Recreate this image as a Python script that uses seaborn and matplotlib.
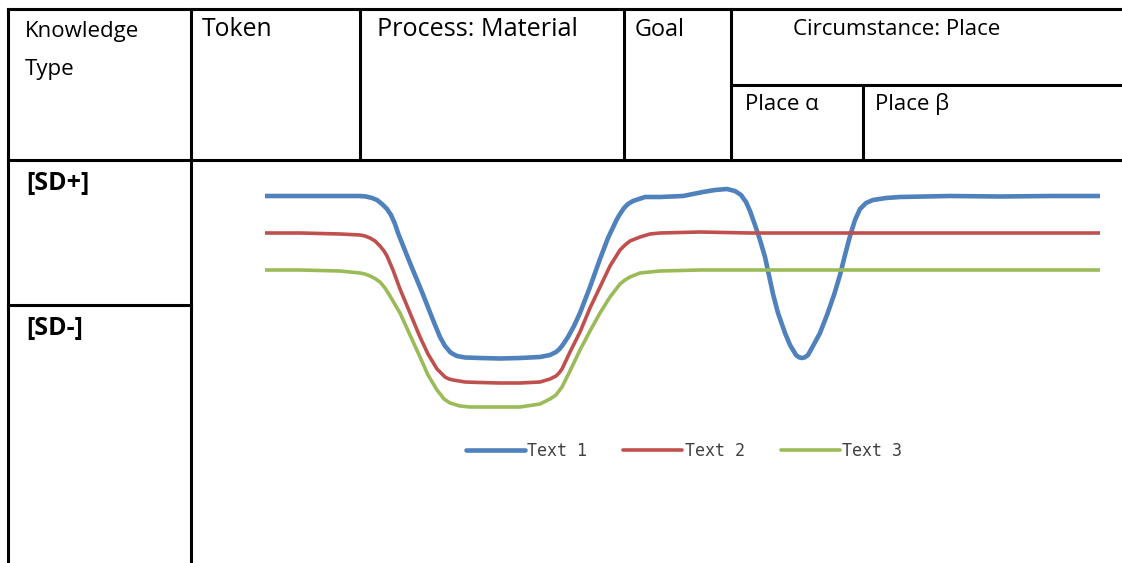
import matplotlib
matplotlib.use("Agg")
import matplotlib.pyplot as plt
import seaborn as sns
import pandas as pd

# Series: position along the clause (x) and semantic density (y)
text1_x = [0, 35, 75, 95, 101, 107, 112, 117, 122, 126, 130, 133, 139, 145, 157, 168, 175,
           180, 183, 185, 188, 192, 200, 215, 235, 255, 275, 285, 288, 291, 294, 297, 303,
           309, 315, 325, 335, 343, 352, 355, 359, 363, 368, 380, 395, 418, 428, 438, 450,
           462, 470, 476, 481, 485, 490, 495, 500, 505, 508, 513, 520, 525, 531, 534, 537,
           540, 543, 548, 555, 562, 569, 575, 580, 585, 590, 595, 601, 608, 621, 635, 685,
           735, 785, 835]
text1_y = [24.4, 24.4, 24.4, 24.4, 24.35, 24.2, 24.0, 23.6, 23.1, 22.5, 21.6, 20.7, 19.2,
           17.7, 14.8, 12.0, 10.3, 9.4, 9.05, 8.8, 8.6, 8.4, 8.25, 8.2, 8.15, 8.2, 8.3, 8.5,
           8.65, 8.8, 9.05, 9.4, 10.3, 11.4, 12.7, 15.3, 18.1, 20.2, 22.1, 22.6, 23.2, 23.6,
           23.9, 24.3, 24.3, 24.4, 24.6, 24.8, 25.0, 25.1, 24.9, 24.5, 23.8, 22.9, 21.5, 20.0,
           18.3, 16.0, 14.6, 12.7, 10.7, 9.5, 8.5, 8.27, 8.2, 8.27, 8.5, 9.4, 10.7, 12.5,
           14.5, 16.5, 18.5, 20.4, 22.0, 23.1, 23.7, 24.0, 24.2, 24.3, 24.4, 24.35, 24.4,
           24.4]

text2_x = [0, 35, 75, 95, 100, 105, 110, 115, 119, 122, 128, 135, 145, 155, 163, 172, 176,
           180, 184, 188, 200, 215, 235, 255, 275, 285, 291, 294, 297, 305, 315, 325, 335,
           345, 355, 360, 365, 370, 375, 385, 395, 435, 485, 535, 635, 735, 835]
text2_y = [20.7, 20.7, 20.6, 20.5, 20.4, 20.2, 19.9, 19.4, 18.9, 18.4, 17.0, 15.1, 12.7,
           10.3, 8.6, 7.1, 6.7, 6.3, 6.1, 6.0, 5.8, 5.75, 5.7, 5.7, 5.8, 6.1, 6.4, 6.7, 7.1,
           8.8, 10.8, 13.2, 15.3, 17.4, 19.0, 19.5, 19.9, 20.1, 20.3, 20.6, 20.7, 20.8, 20.7,
           20.7, 20.7, 20.7, 20.7]

text3_x = [0, 35, 75, 95, 100, 105, 110, 115, 120, 125, 135, 145, 155, 163, 172, 176, 179,
           182, 185, 195, 205, 235, 255, 275, 285, 291, 294, 297, 305, 315, 325, 335, 345,
           355, 360, 365, 370, 375, 395, 435, 535, 635, 735, 835]
text3_y = [17.0, 17.0, 16.9, 16.7, 16.6, 16.4, 16.15, 15.8, 15.2, 14.4, 12.7, 10.5, 8.3,
           6.5, 5.0, 4.5, 4.1, 3.9, 3.7, 3.4, 3.3, 3.3, 3.3, 3.6, 4.1, 4.5, 4.9, 5.3, 6.9,
           9.0, 10.9, 12.7, 14.3, 15.6, 16.0, 16.3, 16.5, 16.7, 16.9, 17.0, 17.0, 17.0, 17.0,
           17.0]

series_names = ["Text 1", "Text 2", "Text 3"]
series_colors = ["#4F81BD", "#C0504D", "#9BBB59"]

# Table header and row labels
header_cells = ["Token", "Process: Material", "Goal", "Circumstance: Place"]
sub_header_cells = ["Place α", "Place β"]
row_labels = ["[SD+]", "[SD-]"]

sns.set_theme(style="white")
plt.rcParams["font.family"] = ["Open Sans", "DejaVu Sans"]

W, H = 1122, 563
fig = plt.figure(figsize=(W / 100, H / 100), dpi=100)
fig.patch.set_facecolor("white")

# Table grid drawn in pixel space
bg = fig.add_axes([0, 0, 1, 1])
bg.set_xlim(0, W)
bg.set_ylim(H, 0)
bg.axis("off")

rule = dict(color="black", lw=2.2, solid_capstyle="projecting")
bg.plot([8, W], [9, 9], **rule)
bg.plot([8, W], [160, 160], **rule)
bg.plot([731, W], [85, 85], **rule)
bg.plot([8, 191], [305, 305], **rule)
bg.plot([8, 8], [9, H], **rule)
bg.plot([191, 191], [9, H], **rule)
bg.plot([360, 360], [9, 160], **rule)
bg.plot([624, 624], [9, 160], **rule)
bg.plot([731, 731], [9, 160], **rule)
bg.plot([863, 863], [85, 160], **rule)

hdr = dict(color="black", va="baseline", ha="left")
bg.text(25, 37, "Knowledge", fontsize=16, **hdr)
bg.text(25, 75, "Type", fontsize=16, **hdr)
bg.text(202, 36, header_cells[0], fontsize=17.8, **hdr)
bg.text(377, 36, header_cells[1], fontsize=18.2, **hdr)
bg.text(635, 36, header_cells[2], fontsize=16.8, **hdr)
bg.text(793, 35, header_cells[3], fontsize=16, **hdr)
bg.text(745, 110, sub_header_cells[0], fontsize=16, **hdr)
bg.text(875, 110, sub_header_cells[1], fontsize=16, **hdr)
bg.text(26, 190, row_labels[0], fontsize=18, fontweight="bold", **hdr)
bg.text(26, 335, row_labels[1], fontsize=18, fontweight="bold", **hdr)

# Line chart inside the body cell
px_left, px_right, px_top, px_bottom = 265, 1100, 180, 420
ax = fig.add_axes([px_left / W, 1 - px_bottom / H,
                   (px_right - px_left) / W, (px_bottom - px_top) / H])
ax.patch.set_alpha(0)

frames = []
for name, xs, ys in zip(series_names, [text1_x, text2_x, text3_x],
                        [text1_y, text2_y, text3_y]):
    frames.append(pd.DataFrame({"position": xs, "density": ys, "series": name}))
df = pd.concat(frames, ignore_index=True)

sns.lineplot(data=df, x="position", y="density", hue="series",
             palette=dict(zip(series_names, series_colors)),
             estimator=None, sort=True, ax=ax, legend=True)
widths = [3.3, 2.6, 2.6]
for line, lw in zip(ax.get_lines(), widths):
    line.set_linewidth(lw)
    line.set_solid_capstyle("round")
    line.set_solid_joinstyle("round")

ax.set_xlim(0, 835)
ax.set_ylim(2, 26)
ax.axis("off")

handles, labels = ax.get_legend_handles_labels()
for h, lw in zip(handles, widths):
    h.set_linewidth(lw)
ax.legend(handles, labels, ncol=3, loc="center",
          bbox_to_anchor=(684 / W, 1 - 451 / H), bbox_transform=fig.transFigure,
          frameon=False, handlelength=3.55, handletextpad=0.15, columnspacing=2.15,
          prop={"family": "DejaVu Sans Mono", "size": 12}, labelcolor="#404040")

fig.savefig("out.png", dpi=100, facecolor="white")
